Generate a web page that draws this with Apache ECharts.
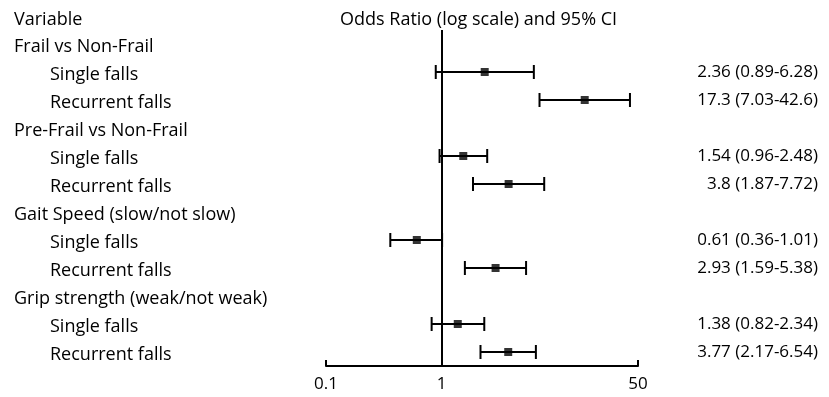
<!DOCTYPE html>
<html>
<head>
<meta charset="utf-8">
<script src="https://cdn.jsdelivr.net/npm/echarts@6/dist/echarts.min.js"></script>
<style>
  html, body { margin: 0; padding: 0; background: #fff; }
  #chart { width: 829px; height: 397px; }
</style>
</head>
<body>
<div id="chart"></div>
<script>
// rows of the forest plot, top to bottom (headers have no estimate)
var rowLabels = [
  'Frail vs Non-Frail', 'Single falls', 'Recurrent falls',
  'Pre-Frail vs Non-Frail', 'Single falls', 'Recurrent falls',
  'Gait Speed (slow/not slow)', 'Single falls', 'Recurrent falls',
  'Grip strength (weak/not weak)', 'Single falls', 'Recurrent falls'
]
var oddsRatio = [null, 2.36, 17.3, null, 1.54, 3.8, null, 0.61, 2.93, null, 1.38, 3.77]
var ciLow = [null, 0.89, 7.03, null, 0.96, 1.87, null, 0.36, 1.59, null, 0.82, 2.17]
var ciHigh = [null, 6.28, 42.6, null, 2.48, 7.72, null, 1.01, 5.38, null, 2.34, 6.54]
var orText = ['', '2.36 (0.89-6.28)', '17.3 (7.03-42.6)', '', '1.54 (0.96-2.48)', '3.8 (1.87-7.72)',
  '', '0.61 (0.36-1.01)', '2.93 (1.59-5.38)', '', '1.38 (0.82-2.34)', '3.77 (2.17-6.54)']
var tickValues = [0.1, 1, 50]

var FONT = '"Open Sans", "Noto Sans", sans-serif'

var barData = []
var pointData = []
rowLabels.forEach(function (name, i) {
  if (oddsRatio[i] == null) return
  barData.push([ciLow[i], i, ciHigh[i]])
  pointData.push([oddsRatio[i], i])
})

var chart = echarts.init(document.getElementById('chart'))
chart.setOption({
  animation: false,
  textStyle: { fontFamily: FONT },
  title: [
    { text: 'Variable', left: 9, top: 6,
      textStyle: { fontSize: 18, fontWeight: 'normal', color: '#000', fontFamily: FONT } },
    { text: 'Odds Ratio (log scale) and 95% CI', left: 335, top: 6,
      textStyle: { fontSize: 18, fontWeight: 'normal', color: '#000', fontFamily: FONT } }
  ],
  grid: { left: 326, right: 191, top: 30, bottom: 31 },
  xAxis: {
    type: 'log',
    logBase: 10,
    min: 0.1,
    max: 50,
    splitLine: { show: false },
    axisLine: { show: true, lineStyle: { color: '#000', width: 2 } },
    axisTick: { show: true, inside: true, length: 6, customValues: tickValues,
      lineStyle: { color: '#000', width: 2 } },
    axisLabel: { customValues: tickValues, color: '#000', fontSize: 17, margin: 10,
      fontFamily: FONT, formatter: function (v) { return String(+v.toPrecision(3)) } }
  },
  yAxis: [
    {
      type: 'category',
      inverse: true,
      data: rowLabels,
      axisLine: { show: false },
      axisTick: { show: false },
      axisLabel: {
        align: 'left',
        margin: 312,
        color: '#000',
        fontSize: 18,
        fontFamily: FONT,
        formatter: function (v, i) {
          return oddsRatio[i] == null ? '{h|' + v + '}' : '{s|' + v + '}'
        },
        rich: {
          h: { fontSize: 18, color: '#000', fontFamily: FONT, padding: [6, 0, 0, 0] },
          s: { fontSize: 18, color: '#000', fontFamily: FONT, padding: [6, 0, 0, 36] }
        }
      }
    },
    {
      type: 'category',
      inverse: true,
      position: 'right',
      data: orText,
      axisLine: { show: false },
      axisTick: { show: false },
      axisLabel: { align: 'right', margin: 180, color: '#000', fontSize: 17, fontFamily: FONT,
        padding: [6, 0, 0, 0] }
    }
  ],
  series: [
    {
      type: 'custom',
      data: barData,
      encode: { x: 0, y: 1 },
      renderItem: function (params, api) {
        var a = api.coord([api.value(0), api.value(1)])
        var b = api.coord([api.value(2), api.value(1)])
        var h = 7
        var style = { stroke: '#000', lineWidth: 2 }
        return {
          type: 'group',
          children: [
            { type: 'line', shape: { x1: a[0], y1: a[1], x2: b[0], y2: b[1] }, style: style },
            { type: 'line', shape: { x1: a[0], y1: a[1] - h, x2: a[0], y2: a[1] + h }, style: style },
            { type: 'line', shape: { x1: b[0], y1: b[1] - h, x2: b[0], y2: b[1] + h }, style: style }
          ]
        }
      }
    },
    {
      type: 'scatter',
      symbol: 'rect',
      symbolSize: 8,
      itemStyle: { color: '#000' },
      data: pointData,
      markLine: {
        silent: true,
        symbol: 'none',
        label: { show: false },
        lineStyle: { color: '#000', width: 2, type: 'solid' },
        data: [{ xAxis: 1 }]
      }
    }
  ]
})
</script>
</body>
</html>
